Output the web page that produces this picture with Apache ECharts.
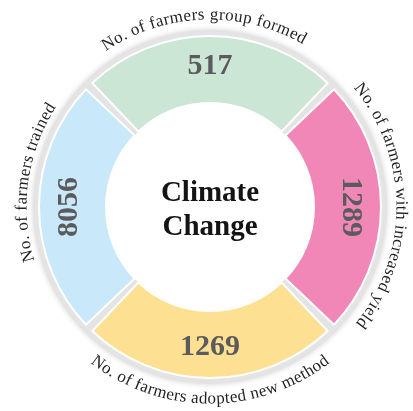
<!DOCTYPE html>
<html>
<head>
<meta charset="utf-8">
<script src="https://cdn.jsdelivr.net/npm/echarts@6/dist/echarts.min.js"></script>
<style>
  html, body { margin: 0; padding: 0; background: #fff; }
  #chart { width: 413px; height: 411px; }
</style>
</head>
<body>
<div id="chart"></div>
<script>
// data
const categories = [
  'No. of farmers group formed',
  'No. of farmers with increased yield',
  'No. of farmers adopted new method',
  'No. of farmers trained'
]
const counts = [517, 1289, 1269, 8056]
const sliceShares = [1, 1, 1, 1] // the ring is drawn as four equal quarters
const centerTitle = ['Climate', 'Change']

const colors = ['#cce6d6', '#f187b7', '#fee093', '#c9e8f9']
const valueRotate = [0, -90, 0, 90]

const cx = 210
const cy = 207
const rInner = 104
const rOuter = 171

const FONT = '17px "Liberation Serif"'
const LETTER = 0.4

const chart = echarts.init(document.getElementById('chart'), null, { renderer: 'canvas' })

const measureCtx = document.createElement('canvas').getContext('2d')
measureCtx.font = FONT

// places one label along a circle, char by char
function arcText(str, midDeg, r, outward) {
  const widths = str.split('').map(ch => measureCtx.measureText(ch).width)
  const total = widths.reduce((a, b) => a + b, 0) + LETTER * (str.length - 1)
  const span = total / r
  let a = midDeg * Math.PI / 180 + (outward ? span / 2 : -span / 2)
  const rr = outward ? r + 5 : r - 5
  const els = []
  str.split('').forEach((ch, i) => {
    const half = widths[i] / 2 / r
    const ac = outward ? a - half : a + half
    els.push({
      type: 'text',
      x: cx + rr * Math.cos(ac),
      y: cy - rr * Math.sin(ac),
      rotation: outward ? ac - Math.PI / 2 : ac + Math.PI / 2,
      silent: true,
      style: {
        text: ch,
        font: FONT,
        fill: '#231f20',
        align: 'center',
        verticalAlign: 'middle',
        textAlign: 'center',
        textVerticalAlign: 'middle'
      }
    })
    a = outward ? a - (widths[i] + LETTER) / r : a + (widths[i] + LETTER) / r
  })
  return els
}

// mid angle of each label (deg) and which side the glyph tops face
const labelPlace = [
  { mid: 92, r: 187, outward: true },
  { mid: 0.5, r: 186, outward: true },
  { mid: -90, r: 197, outward: false },
  { mid: 172, r: 183, outward: true }
]

let graphics = []
categories.forEach((name, i) => {
  const p = labelPlace[i]
  graphics = graphics.concat(arcText(name, p.mid, p.r, p.outward))
})
graphics.push({
  type: 'text',
  x: cx,
  y: cy + 4,
  silent: true,
  style: {
    text: centerTitle.join('\n'),
    font: 'bold 29px "Liberation Serif"',
    lineHeight: 34,
    fill: '#141414',
    align: 'center',
    verticalAlign: 'middle',
    textAlign: 'center',
    textVerticalAlign: 'middle'
  }
})

chart.setOption({
  animation: false,
  graphic: graphics,
  series: [
    {
      // soft outer rim
      type: 'pie',
      silent: true,
      radius: [rOuter - 4, rOuter + 5],
      center: [cx, cy],
      label: { show: false },
      labelLine: { show: false },
      itemStyle: {
        color: '#e4e4e4',
        shadowBlur: 6,
        shadowColor: 'rgba(0,0,0,0.25)'
      },
      data: [{ value: 1 }]
    },
    {
      // gray showing through the gaps
      type: 'pie',
      silent: true,
      radius: [rInner, rOuter + 4],
      center: [cx, cy],
      label: { show: false },
      labelLine: { show: false },
      itemStyle: { color: '#e4e4e4' },
      data: [{ value: 1 }]
    },
    {
      type: 'pie',
      silent: true,
      radius: [rInner, rOuter],
      center: [cx, cy],
      startAngle: 135,
      clockwise: true,
      padAngle: 3,
      itemStyle: {
        borderColor: '#fff',
        borderWidth: 2
      },
      label: {
        show: true,
        position: 'inside',
        fontFamily: 'Liberation Serif',
        fontSize: 30,
        fontWeight: 'bold',
        color: '#5a5b5d'
      },
      labelLine: { show: false },
      data: categories.map((name, i) => ({
        name: name,
        value: sliceShares[i],
        itemStyle: { color: colors[i] },
        label: { formatter: String(counts[i]), rotate: valueRotate[i] }
      }))
    }
  ]
})
</script>
</body>
</html>
